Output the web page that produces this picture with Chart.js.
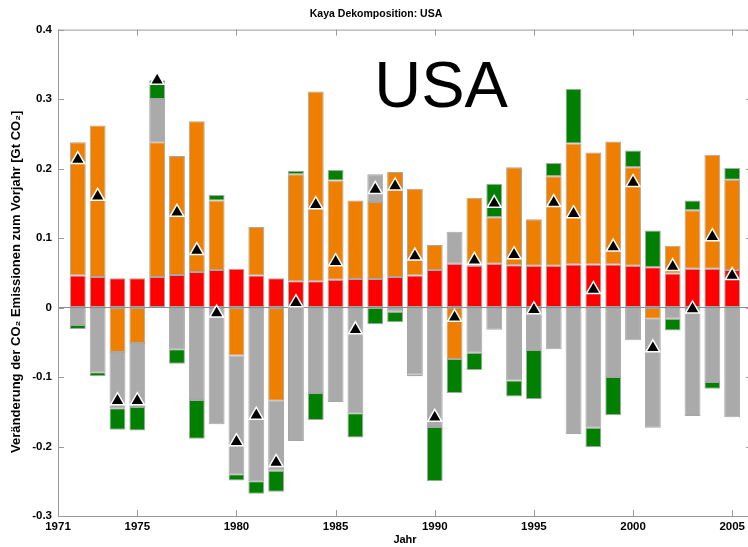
<!DOCTYPE html>
<html>
<head>
<meta charset="utf-8">
<script src="https://cdn.jsdelivr.net/npm/chart.js@4/dist/chart.umd.min.js"></script>
<style>
  html, body { margin: 0; padding: 0; background: #fff; overflow: hidden; }
  canvas { display: block; }
</style>
</head>
<body>
<canvas id="grafico" width="752" height="547"></canvas>
<script>
// Jahre und Kaya-Komponenten (Gt CO2 Veraenderung zum Vorjahr)
const jahre = [1972, 1973, 1974, 1975, 1976, 1977, 1978, 1979, 1980, 1981,
               1982, 1983, 1984, 1985, 1986, 1987, 1988, 1989, 1990, 1991,
               1992, 1993, 1994, 1995, 1996, 1997, 1998, 1999, 2000, 2001,
               2002, 2003, 2004, 2005];

const bevoelkerung = [0.046, 0.044, 0.042, 0.042, 0.044, 0.047, 0.051, 0.054, 0.056, 0.046,
                      0.042, 0.038, 0.038, 0.040, 0.041, 0.041, 0.044, 0.046, 0.054, 0.063,
                      0.060, 0.063, 0.061, 0.060, 0.060, 0.062, 0.062, 0.062, 0.060, 0.058,
                      0.049, 0.056, 0.056, 0.054];

const bipProKopf = [0.192, 0.218, -0.064, -0.051, 0.194, 0.171, 0.217, 0.100, -0.069, 0.070,
                    -0.134, 0.154, 0.273, 0.143, 0.113, 0.111, 0.151, 0.125, 0.036, -0.074,
                    0.098, 0.067, 0.141, 0.067, 0.129, 0.174, 0.161, 0.177, 0.142, -0.016,
                    0.040, 0.084, 0.164, 0.130];

const energieIntensitaet = [-0.025, -0.093, -0.081, -0.092, 0.062, -0.060, -0.133, -0.168, -0.171, -0.250,
                            -0.101, -0.192, -0.123, -0.136, -0.152, 0.040, -0.006, -0.096, -0.172, 0.046,
                            -0.065, -0.032, -0.105, -0.061, -0.060, -0.182, -0.173, -0.100, -0.047, -0.157,
                            -0.016, -0.156, -0.107, -0.158];

const kohlenstoffIntensitaet = [-0.006, -0.006, -0.031, -0.034, 0.027, -0.021, -0.056, 0.008, -0.009, -0.018,
                                -0.030, 0.005, -0.039, 0.015, -0.035, -0.024, -0.015, -0.003, -0.078, -0.049,
                                -0.025, 0.048, -0.023, -0.071, 0.019, 0.079, -0.028, -0.055, 0.024, 0.053,
                                -0.017, 0.014, -0.010, 0.017];

const netto = [0.213, 0.160, -0.134, -0.134, 0.327, 0.137, 0.082, -0.008, -0.193, -0.155,
               -0.223, 0.007, 0.148, 0.066, -0.032, 0.170, 0.175, 0.074, -0.158, -0.014,
               0.068, 0.150, 0.076, -0.003, 0.151, 0.135, 0.026, 0.087, 0.180, -0.058,
               0.059, -0.002, 0.102, 0.046];

const xTicks = [1971, 1975, 1980, 1985, 1990, 1995, 2000, 2005];

const puntos = arr => jahre.map((j, i) => ({ x: j, y: arr[i] }));

const fontTicks = { family: "'Liberation Sans', Arial, sans-serif", size: 11.5, weight: 'bold' };

// Rahmen mit nach innen zeigenden Ticks + grosser Schriftzug
const rahmenPlugin = {
  id: 'rahmen',
  afterDraw(chart) {
    const { ctx, chartArea: a, scales } = chart;
    ctx.save();
    ctx.strokeStyle = '#9a9a9a';
    ctx.lineWidth = 1;
    ctx.strokeRect(a.left + 0.5, a.top + 0.5, a.right - a.left, a.bottom - a.top);
    ctx.beginPath();
    scales.x.ticks.forEach(t => {
      const px = Math.round(scales.x.getPixelForValue(t.value)) + 0.5;
      ctx.moveTo(px, a.bottom); ctx.lineTo(px, a.bottom - 6);
      ctx.moveTo(px, a.top); ctx.lineTo(px, a.top + 6);
    });
    scales.y.ticks.forEach(t => {
      const py = Math.round(scales.y.getPixelForValue(t.value)) + 0.5;
      ctx.moveTo(a.left, py); ctx.lineTo(a.left + 6, py);
      ctx.moveTo(a.right, py); ctx.lineTo(a.right - 6, py);
    });
    ctx.stroke();

    ctx.fillStyle = '#000';
    ctx.font = "65px 'Liberation Sans', Arial, sans-serif";
    ctx.textBaseline = 'alphabetic';
    ctx.fillText('USA', scales.x.getPixelForValue(1986.95), scales.y.getPixelForValue(0.289));
    ctx.restore();
  }
};

const barra = (label, data, color) => ({
  type: 'bar',
  label: label,
  data: puntos(data),
  backgroundColor: color,
  borderColor: 'rgba(60,60,60,0.45)',
  borderWidth: 1,
  borderSkipped: false,
  categoryPercentage: 1,
  barPercentage: 0.8,
  order: 2
});

new Chart(document.getElementById('grafico').getContext('2d'), {
  data: {
    datasets: [
      barra('Bevölkerung', bevoelkerung, '#ff0000'),
      barra('BIP pro Kopf', bipProKopf, '#ef7f00'),
      barra('Energieintensität', energieIntensitaet, '#aaaaaa'),
      barra('Kohlenstoffintensität', kohlenstoffIntensitaet, '#007f00'),
      {
        type: 'scatter',
        label: 'Netto',
        data: puntos(netto),
        stack: 'netto',
        pointStyle: 'triangle',
        pointRadius: 8,
        pointBackgroundColor: '#000',
        pointBorderColor: '#fff',
        pointBorderWidth: 1.5,
        order: 1
      }
    ]
  },
  options: {
    responsive: false,
    animation: false,
    layout: { padding: 0, autoPadding: false },
    plugins: {
      legend: { display: false },
      tooltip: { enabled: false },
      title: {
        display: true,
        text: 'Kaya Dekomposition: USA',
        color: '#000',
        font: { family: "'Liberation Sans', Arial, sans-serif", size: 10.5, weight: 'bold' },
        padding: { top: 8, bottom: 9 }
      }
    },
    scales: {
      x: {
        type: 'linear',
        stacked: true,
        offset: false,
        min: 1971,
        max: 2006,
        afterBuildTicks: s => { s.ticks = xTicks.map(v => ({ value: v })); },
        afterFit: s => { s.height = 31; s.paddingRight = 0; s.paddingLeft = 0; },
        grid: { display: false, drawTicks: false },
        border: { display: false },
        ticks: {
          color: '#000',
          font: fontTicks,
          padding: 4,
          maxRotation: 0,
          autoSkip: false,
          callback: v => String(v)
        },
        title: {
          display: true,
          text: 'Jahr',
          color: '#000',
          font: { family: "'Liberation Sans', Arial, sans-serif", size: 11, weight: 'bold' },
          padding: { top: 0, bottom: 0 }
        }
      },
      y: {
        stacked: true,
        min: -0.3,
        max: 0.4,
        afterFit: s => { s.width = 58; },
        grid: {
          drawTicks: false,
          color: c => (c.tick && Math.abs(c.tick.value) < 1e-9) ? '#8c8c8c' : 'rgba(0,0,0,0)',
          lineWidth: 1
        },
        border: { display: false },
        ticks: {
          stepSize: 0.1,
          color: '#000',
          font: fontTicks,
          padding: 6,
          callback: v => String(Math.round(v * 10) / 10)
        },
        title: {
          display: true,
          text: 'Veränderung der CO₂ Emissionen zum Vorjahr [Gt CO₂]\u00a0\u00a0\u00a0\u00a0\u00a0',
          color: '#000',
          font: { family: "'Liberation Sans', Arial, sans-serif", size: 13, weight: 'bold' },
          padding: { top: 9, bottom: 0 }
        }
      }
    }
  },
  plugins: [rahmenPlugin]
});
</script>
</body>
</html>
